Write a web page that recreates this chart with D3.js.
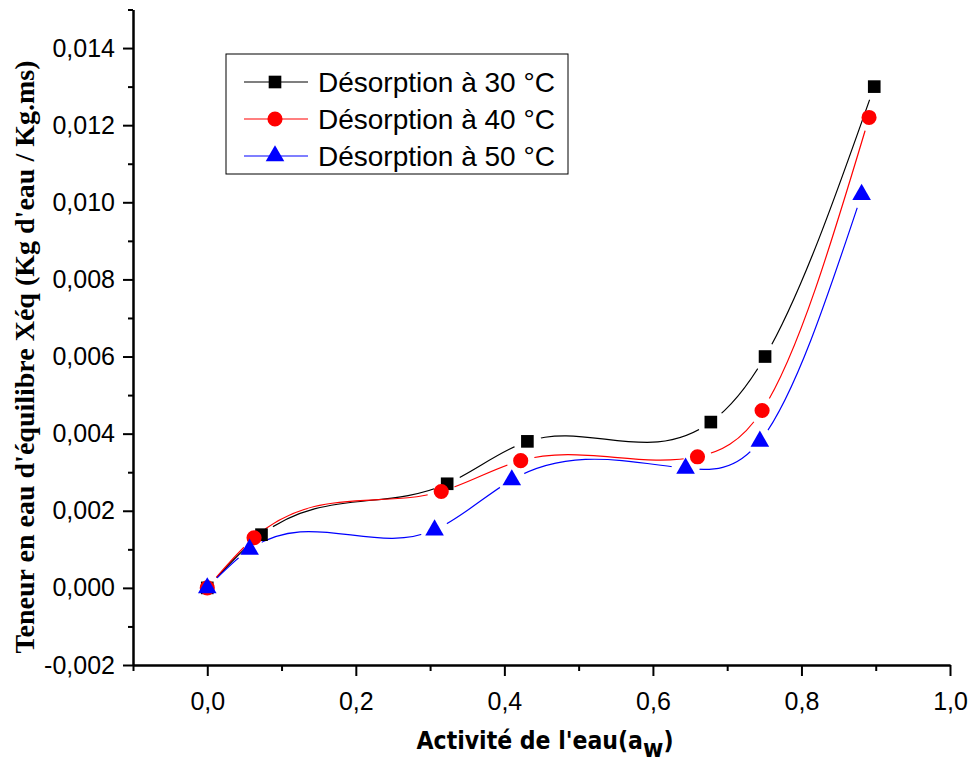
<!DOCTYPE html>
<html>
<head>
<meta charset="utf-8">
<title>desorption</title>
<script src="https://cdn.jsdelivr.net/npm/d3@7"></script>
<style>
  body {margin:0;background:#fff;}
  svg text {fill:#000;}
</style>
</head>
<body>
<svg id="chart" width="969" height="767"></svg>
<script>
// water activity (x) and equilibrium moisture content (y) for each temperature
var aw30 = [0, 0.073, 0.323, 0.431, 0.678, 0.751, 0.898];
var xeq30 = [0, 0.00138, 0.0027, 0.0038, 0.0043, 0.0060, 0.0130];
var aw40 = [0, 0.063, 0.315, 0.422, 0.660, 0.747, 0.891];
var xeq40 = [0, 0.0013, 0.0025, 0.0033, 0.0034, 0.0046, 0.0122];
var aw50 = [0, 0.057, 0.306, 0.410, 0.644, 0.744, 0.881];
var xeq50 = [0, 0.0010, 0.0015, 0.0028, 0.0031, 0.0038, 0.0102];

var seriesNames = ["Désorption à 30 °C", "Désorption à 40 °C", "Désorption à 50 °C"];
var xMajor = [0, 0.2, 0.4, 0.6, 0.8, 1.0];
var xMinor = [-0.1, 0.1, 0.3, 0.5, 0.7, 0.9];
var yMajor = [-0.002, 0, 0.002, 0.004, 0.006, 0.008, 0.010, 0.012, 0.014];
var yMinor = [-0.001, 0.001, 0.003, 0.005, 0.007, 0.009, 0.011, 0.013, 0.015];

var series = [
  {name: seriesNames[0], xs: aw30, ys: xeq30, color: "#000000", sym: d3.symbolSquare, size: 160},
  {name: seriesNames[1], xs: aw40, ys: xeq40, color: "#ff0000", sym: d3.symbolCircle, size: 180},
  {name: seriesNames[2], xs: aw50, ys: xeq50, color: "#0000ff", sym: d3.symbolTriangle, size: 150}
];

var svg = d3.select("#chart");
var x = d3.scaleLinear().domain([-0.1, 1.0]).range([133, 950]);
var y = d3.scaleLinear().domain([-0.002, 0.015]).range([665, 9.5]);

var loc = d3.formatLocale({decimal: ",", thousands: " ", grouping: [3], currency: ["", ""], minus: "-"});
var fx = loc.format(".1f"), fy = loc.format(".3f");

// natural cubic spline y(x), drawn as bezier pieces (like Origin's spline connect)
function splineX(context) {
  var pts;
  return {
    areaStart: function() {}, areaEnd: function() {},
    lineStart: function() { pts = []; },
    point: function(px, py) { pts.push([+px, +py]); },
    lineEnd: function() {
      var n = pts.length;
      if (!n) return;
      context.moveTo(pts[0][0], pts[0][1]);
      if (n < 3) { for (var k = 1; k < n; k++) context.lineTo(pts[k][0], pts[k][1]); return; }
      var h = [], i;
      for (i = 0; i < n - 1; i++) h.push(pts[i + 1][0] - pts[i][0]);
      // tridiagonal solve for second derivatives, M0 = Mn-1 = 0
      var a = [], b = [], c = [], r = [];
      for (i = 1; i < n - 1; i++) {
        a.push(h[i - 1]); b.push(2 * (h[i - 1] + h[i])); c.push(h[i]);
        r.push(6 * ((pts[i + 1][1] - pts[i][1]) / h[i] - (pts[i][1] - pts[i - 1][1]) / h[i - 1]));
      }
      var m = r.length;
      for (i = 1; i < m; i++) {
        var w = a[i] / b[i - 1];
        b[i] -= w * c[i - 1]; r[i] -= w * r[i - 1];
      }
      var M = new Array(n).fill(0);
      M[m] = r[m - 1] / b[m - 1];
      for (i = m - 2; i >= 0; i--) M[i + 1] = (r[i] - c[i] * M[i + 2]) / b[i];
      for (i = 0; i < n - 1; i++) {
        var x0 = pts[i][0], y0 = pts[i][1], x1 = pts[i + 1][0], y1 = pts[i + 1][1], hh = h[i];
        var s = (y1 - y0) / hh;
        var d0 = s - hh * (2 * M[i] + M[i + 1]) / 6;
        var d1 = s + hh * (M[i] + 2 * M[i + 1]) / 6;
        context.bezierCurveTo(x0 + hh / 3, y0 + d0 * hh / 3, x1 - hh / 3, y1 - d1 * hh / 3, x1, y1);
      }
    }
  };
}

// axes: major ticks with labels, minor without
function styleAxis(g) {
  g.selectAll("path.domain").attr("stroke", "#000").attr("stroke-width", 2);
  g.selectAll(".tick line").attr("stroke", "#000").attr("stroke-width", 2);
  g.selectAll("text").attr("font-family", "'Liberation Sans', Arial, sans-serif").attr("font-size", 25).attr("fill", "#000");
}
svg.append("g").attr("transform", "translate(0,665)")
  .call(d3.axisBottom(x).tickValues(xMinor).tickSize(6).tickSizeOuter(0).tickFormat(""))
  .call(styleAxis);
svg.append("g").attr("transform", "translate(0,665)")
  .call(d3.axisBottom(x).tickValues(xMajor).tickSize(11).tickSizeOuter(0).tickPadding(16).tickFormat(fx))
  .call(styleAxis);
svg.append("g").attr("transform", "translate(133,0)")
  .call(d3.axisLeft(y).tickValues(yMinor).tickSize(5).tickSizeOuter(0).tickFormat(""))
  .call(styleAxis);
svg.append("g").attr("transform", "translate(133,0)")
  .call(d3.axisLeft(y).tickValues(yMajor).tickSize(10).tickSizeOuter(0).tickPadding(8).tickFormat(fy))
  .call(styleAxis);

// masks so each curve stops short of its own markers
var defs = svg.append("defs");
series.forEach(function(s, i) {
  var m = defs.append("mask").attr("id", "gap" + i).attr("maskUnits", "userSpaceOnUse")
    .attr("x", 0).attr("y", 0).attr("width", 969).attr("height", 767);
  m.append("rect").attr("width", 969).attr("height", 767).attr("fill", "#fff");
  m.selectAll("circle").data(s.xs).enter().append("circle")
    .attr("cx", function(d) { return x(d); })
    .attr("cy", function(d, j) { return y(s.ys[j]); })
    .attr("r", 14).attr("fill", "#000");
});

var line = d3.line().curve(splineX)
  .x(function(d) { return x(d[0]); })
  .y(function(d) { return y(d[1]); });

series.forEach(function(s, i) {
  svg.append("path")
    .datum(d3.zip(s.xs, s.ys))
    .attr("d", line)
    .attr("fill", "none")
    .attr("stroke", s.color)
    .attr("stroke-width", 1.2)
    .attr("mask", "url(#gap" + i + ")");
});

series.forEach(function(s) {
  svg.append("g").selectAll("path").data(d3.zip(s.xs, s.ys)).enter().append("path")
    .attr("transform", function(d) { return "translate(" + x(d[0]) + "," + y(d[1]) + ")"; })
    .attr("d", d3.symbol().type(s.sym).size(s.size))
    .attr("fill", s.color);
});

// legend
var leg = svg.append("g");
leg.append("rect").attr("x", 226).attr("y", 54).attr("width", 342).attr("height", 120)
  .attr("fill", "#fff").attr("stroke", "#000").attr("stroke-width", 1);
var rowY = [82, 119, 156];
series.forEach(function(s, i) {
  leg.append("line").attr("x1", 244).attr("x2", 308).attr("y1", rowY[i]).attr("y2", rowY[i])
    .attr("stroke", s.color).attr("stroke-width", 1.2);
  leg.append("path").attr("transform", "translate(275," + rowY[i] + ")")
    .attr("d", d3.symbol().type(s.sym).size(s.size)).attr("fill", s.color);
  leg.append("text").attr("x", 318).attr("y", rowY[i]).attr("dy", "0.36em")
    .attr("font-family", "'Liberation Sans', Arial, sans-serif").attr("font-size", 28)
    .text(s.name);
});

// axis titles
var xt = svg.append("text").attr("x", 545).attr("y", 749).attr("text-anchor", "middle")
  .attr("font-family", "'DejaVu Sans Condensed', 'DejaVu Sans', sans-serif").attr("font-weight", "bold")
  .attr("font-size", 24.5);
xt.append("tspan").text("Activité de l'eau(a");
xt.append("tspan").attr("dy", 8).text("w");
xt.append("tspan").attr("dy", -8).text(")");

svg.append("text").attr("transform", "translate(24,357) rotate(-90)").attr("text-anchor", "middle")
  .attr("dy", "0.35em")
  .attr("font-family", "'Liberation Serif', 'Times New Roman', serif").attr("font-weight", "bold")
  .attr("font-size", 28)
  .text("Teneur en eau d'équilibre Xéq (Kg d'eau / Kg.ms)");
</script>
</body>
</html>
